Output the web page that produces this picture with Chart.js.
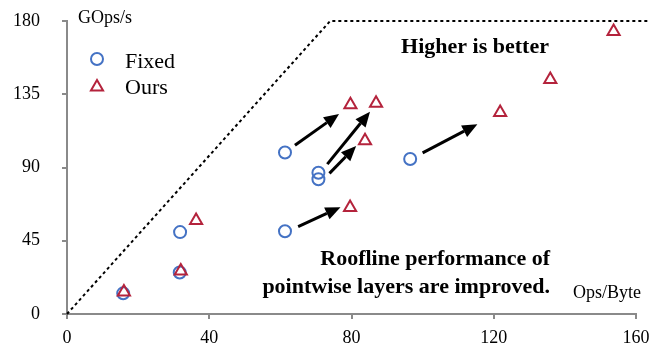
<!DOCTYPE html>
<html>
<head>
<meta charset="utf-8">
<script src="https://cdn.jsdelivr.net/npm/chart.js@4"></script>
<style>
  body { margin: 0; background: #fff; }
  canvas { display: block; }
</style>
</head>
<body>
<canvas id="roofline" width="664" height="345"></canvas>
<script>
// Fixed (blue circles)
const fixedX = [15.8, 31.7, 31.8, 61.3, 61.3, 70.7, 70.7, 96.5];
const fixedY = [12.7, 25.5, 50.3, 99.2, 50.8, 86.8, 82.8, 95.2];

// Ours (red triangles)
const oursX = [16, 32, 36.3, 79.7, 86.9, 83.8, 79.6, 121.8, 135.9, 153.7];
const oursY = [13.5, 26.4, 57.5, 128.5, 129.5, 106.5, 65.5, 123.8, 144, 173.5];

// roofline (dotted)
const roofX = [0, 74, 163.7];
const roofY = [0, 180, 180];

// arrows fixed -> ours
const arrowFromX = [64.1, 73.2, 73.8, 65.0, 100.0];
const arrowFromY = [103.7, 92.1, 86.4, 53.7, 99.0];
const arrowToX = [76.5, 85.2, 81.3, 76.9, 115.4];
const arrowToY = [122.9, 124.3, 103.2, 65.6, 116.6];

const xTicks = [0, 40, 80, 120, 160];
const yTicks = [0, 45, 90, 135, 180];

const blue = "#4472C4";
const red = "#B4233C";
const axisGrey = "#8a8a8a";
const serif = "'Liberation Serif', 'Times New Roman', serif";

function pts(xs, ys) {
  return xs.map(function(x, i) { return { x: x, y: ys[i] }; });
}

// arrows, text and legend drawn on top
const extras = {
  id: "extras",
  afterDatasetsDraw: function(chart) {
    var c = chart.ctx;
    var xs = chart.scales.x, ys = chart.scales.y;
    c.save();

    // arrows
    c.strokeStyle = "#000";
    c.fillStyle = "#000";
    c.lineWidth = 3;
    for (var i = 0; i < arrowFromX.length; i++) {
      var x1 = xs.getPixelForValue(arrowFromX[i]), y1 = ys.getPixelForValue(arrowFromY[i]);
      var x2 = xs.getPixelForValue(arrowToX[i]), y2 = ys.getPixelForValue(arrowToY[i]);
      var a = Math.atan2(y2 - y1, x2 - x1);
      var hl = 15, hw = 6.5;
      var bx = x2 - hl * Math.cos(a), by = y2 - hl * Math.sin(a);
      c.beginPath();
      c.moveTo(x1, y1);
      c.lineTo(bx, by);
      c.stroke();
      c.beginPath();
      c.moveTo(x2, y2);
      c.lineTo(bx + hw * Math.sin(a), by - hw * Math.cos(a));
      c.lineTo(bx - hw * Math.sin(a), by + hw * Math.cos(a));
      c.closePath();
      c.fill();
    }

    // axis titles
    c.fillStyle = "#000";
    c.textBaseline = "alphabetic";
    c.font = "18px " + serif;
    c.textAlign = "left";
    c.fillText("GOps/s", 78, 23);
    c.fillText("Ops/Byte", 573, 298);

    // bold notes
    c.font = "bold 22px " + serif;
    c.textAlign = "center";
    c.fillText("Higher is better", 475, 53);
    c.textAlign = "right";
    c.fillText("Roofline performance of", 550, 265);
    c.fillText("pointwise layers are improved.", 550, 293);

    // legend
    c.lineWidth = 2;
    c.strokeStyle = blue;
    c.beginPath();
    c.arc(97, 59, 6, 0, Math.PI * 2);
    c.stroke();
    c.strokeStyle = red;
    var r = 7;
    c.beginPath();
    c.moveTo(97, 87 - r);
    c.lineTo(97 + r * 0.866, 87 + r / 2);
    c.lineTo(97 - r * 0.866, 87 + r / 2);
    c.closePath();
    c.stroke();
    c.font = "22px " + serif;
    c.textAlign = "left";
    c.fillText("Fixed", 125, 68);
    c.fillText("Ours", 125, 94);

    c.restore();
  }
};

var ctx = document.getElementById("roofline").getContext("2d");
var chart = new Chart(ctx, {
  type: "scatter",
  data: {
    datasets: [
      {
        label: "Roofline",
        type: "line",
        data: pts(roofX, roofY),
        borderColor: "#000",
        borderWidth: 2,
        borderDash: [3, 3],
        pointRadius: 0,
        fill: false,
        clip: false,
        order: 3
      },
      {
        label: "Fixed",
        data: pts(fixedX, fixedY),
        pointStyle: "circle",
        pointRadius: 6,
        borderWidth: 2,
        borderColor: blue,
        backgroundColor: "rgba(0,0,0,0)",
        order: 2
      },
      {
        label: "Ours",
        data: pts(oursX, oursY),
        pointStyle: "triangle",
        pointRadius: 7,
        borderWidth: 2,
        borderColor: red,
        backgroundColor: "rgba(0,0,0,0)",
        order: 1
      }
    ]
  },
  options: {
    responsive: false,
    animation: false,
    layout: { padding: { top: 21, right: 28, left: 0, bottom: 0 } },
    plugins: {
      legend: { display: false },
      tooltip: { enabled: false }
    },
    scales: {
      x: {
        type: "linear",
        min: 0,
        max: 160,
        afterBuildTicks: function(s) { s.ticks = xTicks.map(function(v) { return { value: v }; }); },
        afterFit: function(s) { s.height = 31; },
        border: { color: axisGrey, width: 2 },
        grid: { drawOnChartArea: false, color: axisGrey, lineWidth: 2, tickLength: 5 },
        ticks: { color: "#000", font: { family: serif, size: 18 }, padding: 8, maxRotation: 0 }
      },
      y: {
        type: "linear",
        min: 0,
        max: 180,
        afterBuildTicks: function(s) { s.ticks = yTicks.map(function(v) { return { value: v }; }); },
        // tick padding would otherwise be added above and below the axis
        afterFit: function(s) { s.width = 67; s.paddingTop = 11; s.paddingBottom = 11; },
        border: { color: axisGrey, width: 2 },
        grid: { drawOnChartArea: false, color: axisGrey, lineWidth: 2, tickLength: 5 },
        ticks: { color: "#000", font: { family: serif, size: 18 }, padding: 22 }
      }
    }
  },
  plugins: [extras]
});
</script>
</body>
</html>
